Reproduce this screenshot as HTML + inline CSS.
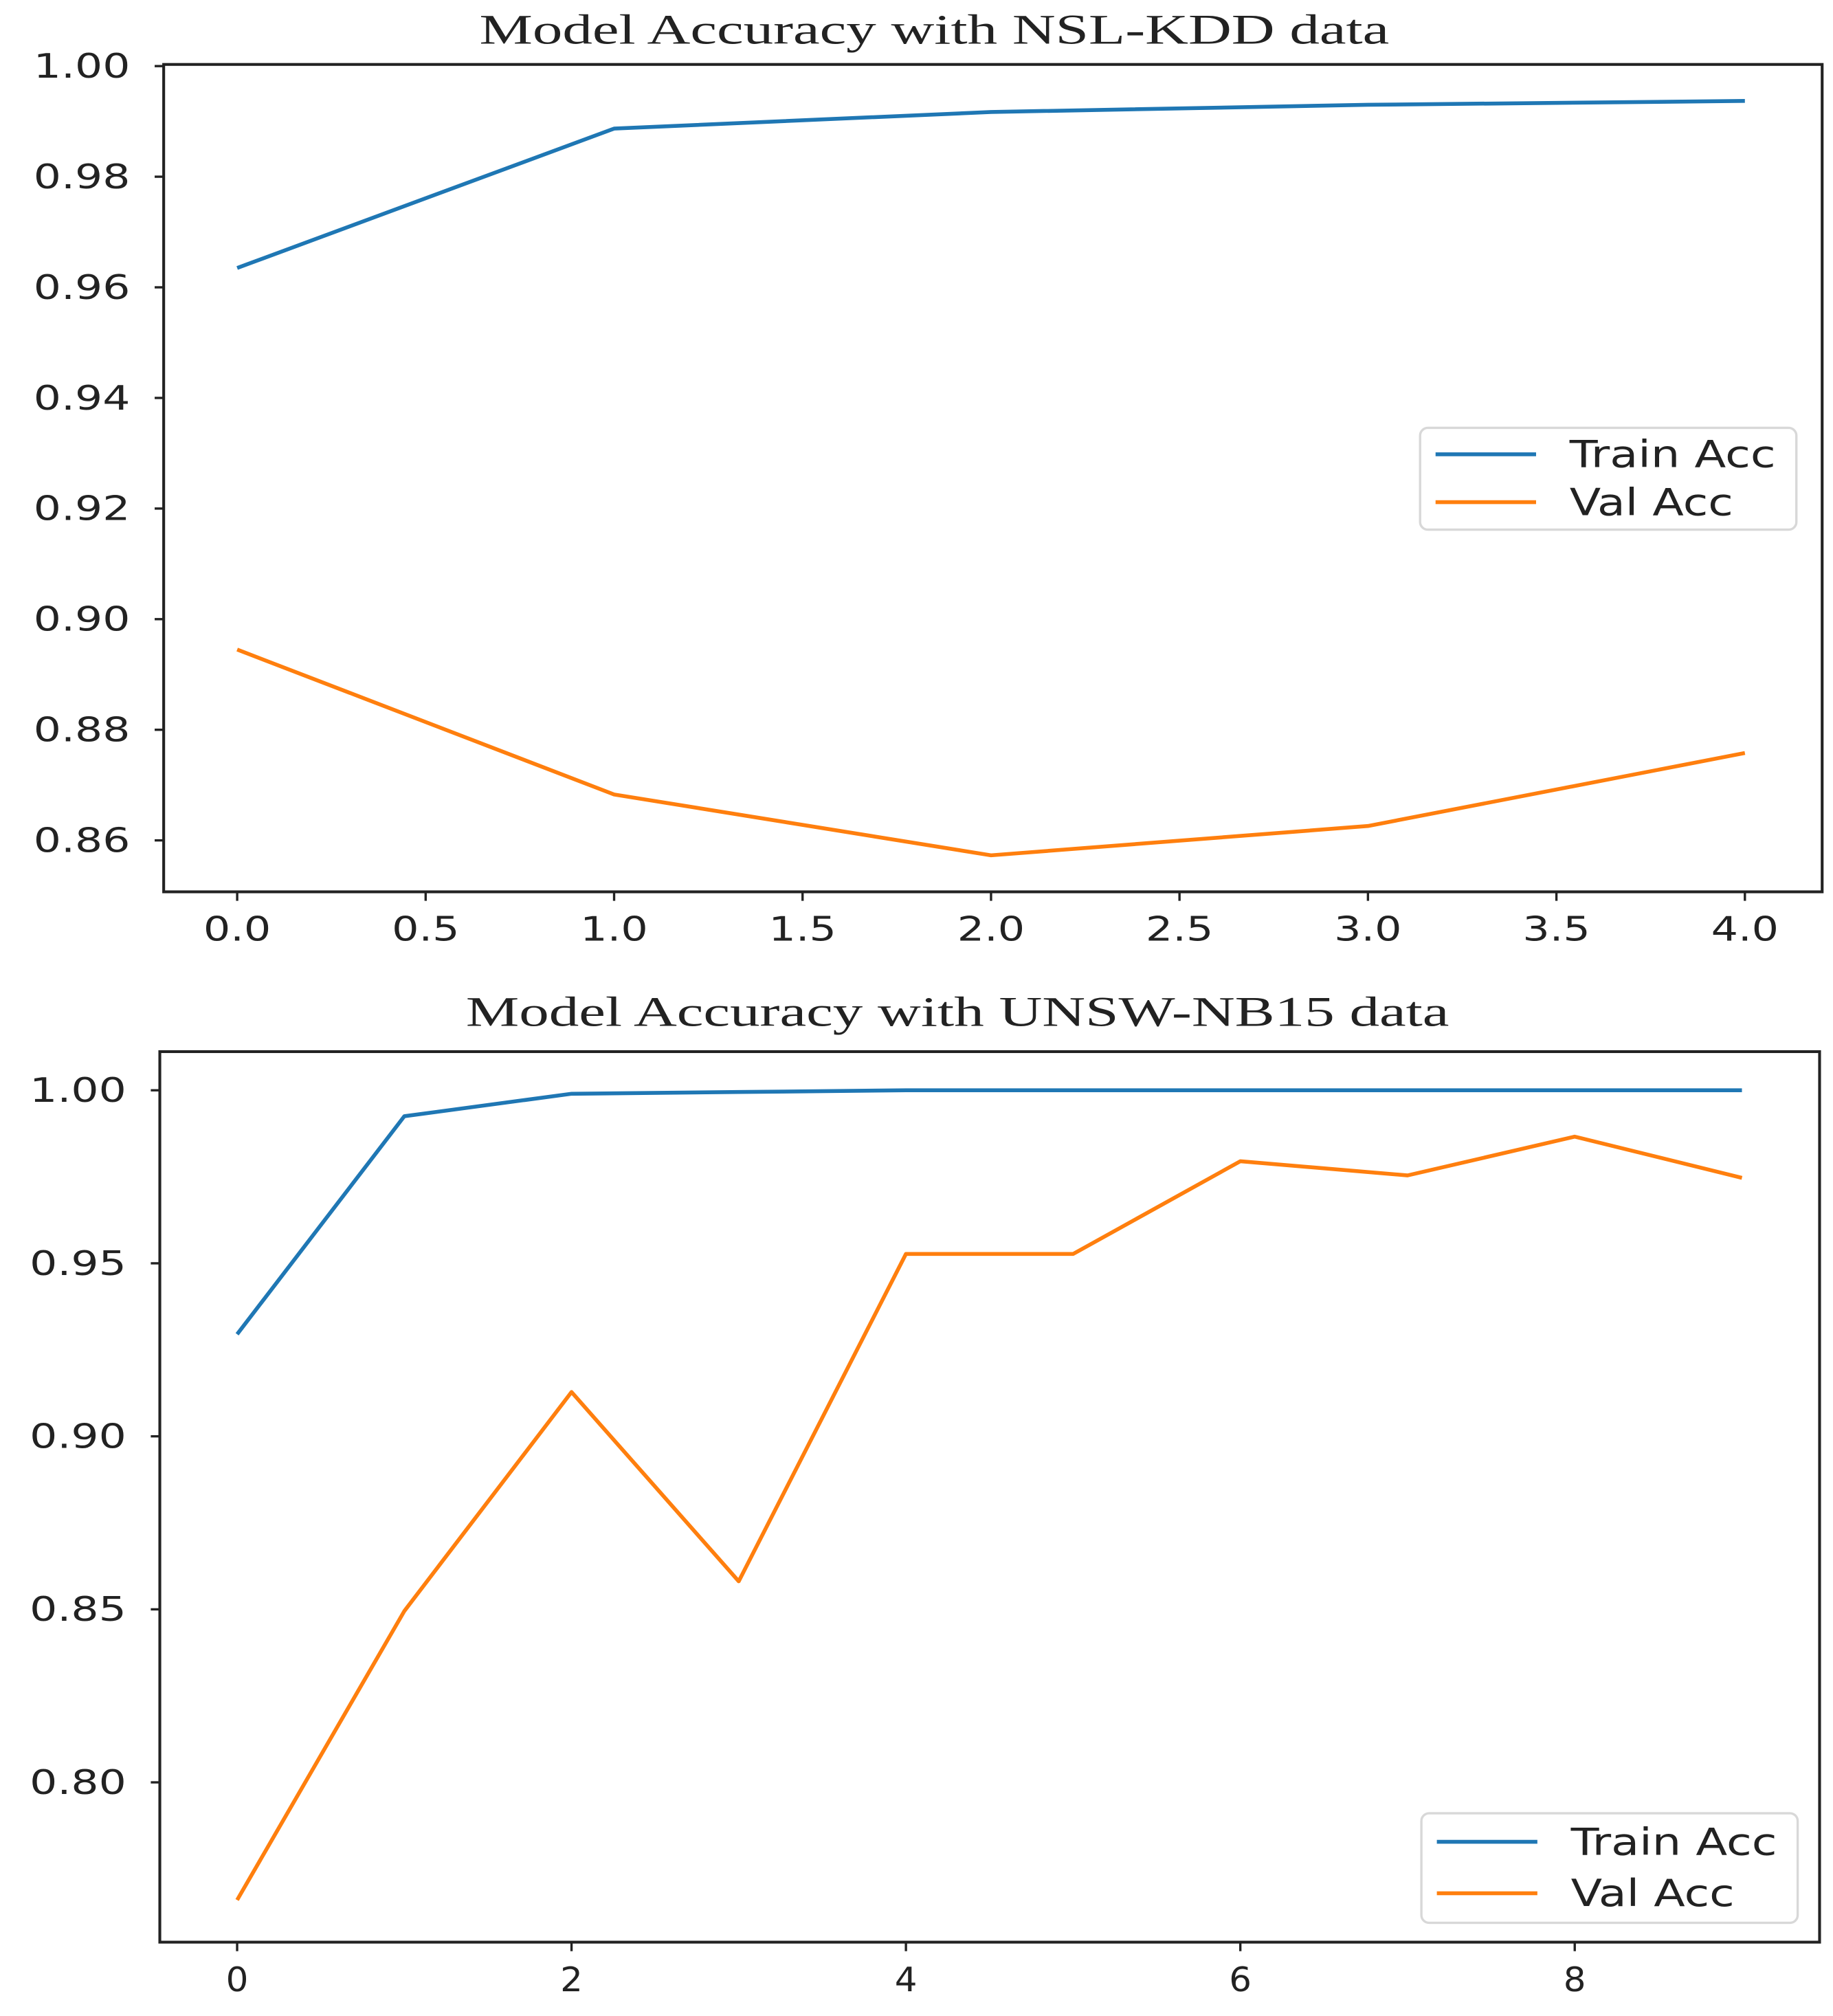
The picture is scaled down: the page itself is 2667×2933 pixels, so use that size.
<!DOCTYPE html>
<html><head><meta charset="utf-8"><style>
html,body{margin:0;padding:0;background:#fff}
svg{display:block}
text{font-family:"DejaVu Sans","Liberation Sans",sans-serif;fill:#222}
.title{font-family:"Liberation Serif",serif;font-size:33px}
</style></head><body>
<svg id="fig" width="2667" height="2933" viewBox="0 0 1422.4 1564.3" xmlns="http://www.w3.org/2000/svg"></svg>
<script>
const nslEpochs=[0,1,2,3,4];
const nslTrain=[0.9635,0.9887,0.9917,0.9930,0.9937];
const nslVal=[0.8945,0.8683,0.8573,0.8626,0.8758];
const nslYTicks=[0.86,0.88,0.90,0.92,0.94,0.96,0.98,1.00];
const nslXTicks=[0,0.5,1,1.5,2,2.5,3,3.5,4];
const unswEpochs=[0,1,2,3,4,5,6,7,8,9];
const unswTrain=[0.9295,0.9925,0.999,0.9995,1,1,1,1,1,1];
const unswVal=[0.766,0.8495,0.9128,0.8581,0.9527,0.9527,0.9795,0.9754,0.9866,0.9747];
const unswYTicks=[0.80,0.85,0.90,0.95,1.00];
const unswXTicks=[0,2,4,6,8];
const NS="http://www.w3.org/2000/svg";
const svg=document.getElementById('fig');
function mk(tag,attrs,parent){const e=document.createElementNS(NS,tag);for(const k in attrs)e.setAttribute(k,attrs[k]);(parent||svg).appendChild(e);return e;}
function panel(cfg){
  const g=mk('g',{});
  
  
  const {L,R,T,B,x0,x1,y0,y1}=cfg;
  const sx=v=>L+(v-x0)/(x1-x0)*(R-L);
  const sy=v=>B-(v-y0)/(y1-y0)*(B-T);
  const t=mk('text',{x:cfg.titleX,y:cfg.titleY,'text-anchor':'middle',class:'title',textLength:cfg.titleW,lengthAdjust:'spacingAndGlyphs'},g);t.textContent=cfg.title;
  
  
  cfg.yTicks.forEach(v=>{
    mk('line',{x1:L-7,x2:L,y1:sy(v),y2:sy(v),stroke:'#222','stroke-width':1.8},g);
    const tx=mk('text',{x:L-26,y:sy(v)+9,'text-anchor':'end','font-size':26,textLength:75,lengthAdjust:'spacingAndGlyphs'},g);tx.textContent=v.toFixed(2);
    
    
  });
  cfg.xTicks.forEach(v=>{
    mk('line',{x1:sx(v),x2:sx(v),y1:B,y2:B+7,stroke:'#222','stroke-width':1.8},g);
    const s=cfg.xFmt(v);
    const tx=mk('text',{x:sx(v),y:B+38,'text-anchor':'middle','font-size':26,textLength:s.length*17.5,lengthAdjust:'spacingAndGlyphs'},g);tx.textContent=s;
    
    
  });
  [[cfg.train,'#1f77b4','train-acc-line'],[cfg.val,'#ff7f0e','val-acc-line']].forEach(([d,c,n])=>{
    const p=mk('polyline',{points:cfg.xs.map((x,i)=>sx(x)+','+sy(d[i])).join(' '),fill:'none',stroke:c,'stroke-width':3,'stroke-linejoin':'round'},g);
    
    
  });
  const fr=mk('rect',{x:L,y:T,width:R-L,height:B-T,fill:'none',stroke:'#222','stroke-width':2.2},g);
  
  
  const lg=mk('g',{},g);
  
  
  const [lx,ly,lw,lh]=cfg.leg;
  mk('rect',{x:lx,y:ly,width:lw,height:lh,rx:6,fill:'#fff',stroke:'#d8d8d8','stroke-width':1.8},lg);
  [['Train Acc','#1f77b4',160],['Val Acc','#ff7f0e',127]].forEach(([s,c,w],i)=>{
    const yy=ly+lh*(0.26+0.47*i);
    mk('line',{x1:lx+12,x2:lx+90,y1:yy,y2:yy,stroke:c,'stroke-width':3},lg);
    const tx=mk('text',{x:lx+116,y:yy+10,'font-size':29,textLength:w,lengthAdjust:'spacingAndGlyphs'},lg);tx.textContent=s;
    
    
  });
}
panel({name:'nsl-kdd-chart',title:'Model Accuracy with NSL-KDD data',titleX:725,titleW:706,titleY:34,L:127,R:1414,T:50,B:692,
  x0:-0.195,x1:4.205,y0:0.8507,y1:1.0003,xs:nslEpochs,train:nslTrain,val:nslVal,
  yTicks:nslYTicks,xTicks:nslXTicks,xFmt:v=>v.toFixed(1),leg:[1102,332,292,79]});
panel({name:'unsw-nb15-chart',title:'Model Accuracy with UNSW-NB15 data',titleX:743,titleW:763,titleY:796,L:124,R:1412,T:816,B:1507,
  x0:(124-184)/129.75,x1:(1412-184)/129.75,y0:1-(1507-846)/2685,y1:1-(816-846)/2685,xs:unswEpochs,train:unswTrain,val:unswVal,
  yTicks:unswYTicks,xTicks:unswXTicks,xFmt:v=>String(v),leg:[1103,1407,292,85]});
</script>
</body></html>
